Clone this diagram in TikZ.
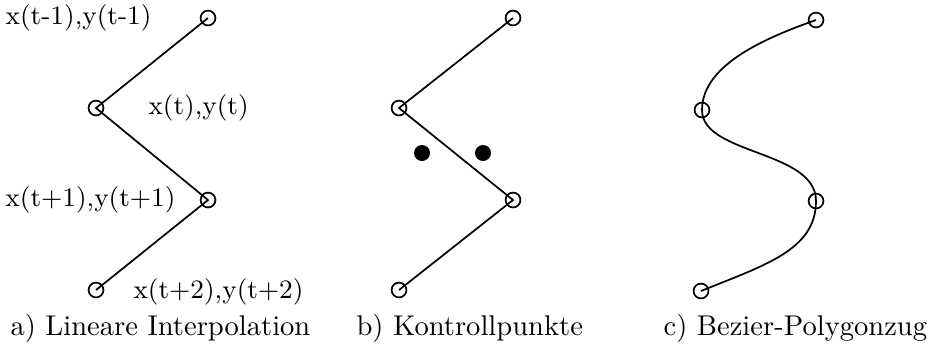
\documentclass[tikz,border=0pt]{standalone}
\begin{document}
\begin{tikzpicture}[x=0.35pt,y=-0.35pt,
  font=\fontsize{9.3}{11}\selectfont,
  pt/.style={circle,draw,line width=0.6pt,minimum size=5.2pt,inner sep=0pt},
  dot/.style={circle,fill,minimum size=5.6pt,inner sep=0pt},
  seg/.style={line width=0.6pt},
  lab/.style={inner sep=0pt},
  captext/.style={inner sep=0pt,anchor=base west,font=\fontsize{10}{12}\selectfont}]
\useasboundingbox (0,0) rectangle (936,355);
% panel a
\coordinate (a1) at (208,18);
\coordinate (a2) at (96,108);
\coordinate (a3) at (208,200);
\coordinate (a4) at (96,290);
\draw[seg] (a1) -- (a2) -- (a3) -- (a4);
\foreach \n in {a1,a2,a3,a4} \node[pt] (c\n) at (\n) {};
\node[lab,anchor=east] (la1) at (152,18) {x(t-1),y(t-1)};
\node[lab,anchor=west] (la2) at (148,108) {x(t),y(t)};
\node[lab,anchor=east] (la3) at (176,200) {x(t+1),y(t+1)};
\node[lab,anchor=west] (la4) at (133,292) {x(t+2),y(t+2)};
% panel b
\coordinate (b1) at (513,18);
\coordinate (b2) at (399,108);
\coordinate (b3) at (513,200);
\coordinate (b4) at (399,290);
\draw[seg] (b1) -- (b2) -- (b3) -- (b4);
\foreach \n in {b1,b2,b3,b4} \node[pt] (c\n) at (\n) {};
\node[dot] (d1) at (422,153) {};
\node[dot] (d2) at (483,153) {};
% panel c
\coordinate (e1) at (816,20);
\coordinate (e2) at (702,110);
\coordinate (e3) at (816,201);
\coordinate (e4) at (701,291);
\draw[seg] (e1) .. controls (765,38) and (702,65) .. (e2)
  .. controls (702,155) and (816,150) .. (e3)
  .. controls (816,250) and (765,265) .. (e4);
\foreach \n in {e1,e2,e3,e4} \node[pt] (c\n) at (\n) {};
% captions
\node[captext] (ca) at (10,335) {a) Lineare Interpolation};
\node[captext] (cb) at (356,335) {b) Kontrollpunkte};
\node[captext] (cc) at (663,335) {c) Bezier-Polygonzug};
\end{tikzpicture}
\end{document}
